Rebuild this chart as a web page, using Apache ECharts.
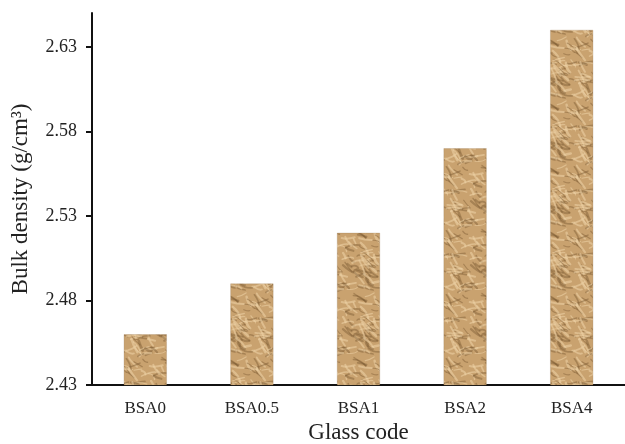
<!DOCTYPE html>
<html>
<head>
<meta charset="utf-8">
<script src="https://cdn.jsdelivr.net/npm/echarts@6/dist/echarts.min.js"></script>
<style>
html,body{margin:0;padding:0;background:#fff;}
#chart{width:625px;height:444px;}
</style>
</head>
<body>
<div id="chart"></div>
<script>
var categories = ['BSA0', 'BSA0.5', 'BSA1', 'BSA2', 'BSA4'];
var bulkDensity = [2.46, 2.49, 2.52, 2.57, 2.64];
var yTicks = [2.43, 2.48, 2.53, 2.58, 2.63];

// crumpled-paper style texture (styling only)
function makeTexture() {
  var N = 64;
  var c = document.createElement('canvas');
  c.width = N; c.height = N;
  var g = c.getContext('2d');
  g.fillStyle = '#c9a26f';
  g.fillRect(0, 0, N, N);
  var s = 24681;
  function rnd() { s = (s * 16807) % 2147483647; return s / 2147483647; }
  try { g.filter = 'blur(0.7px)'; } catch (e) {}
  for (var i = 0; i < 110; i++) {
    var x = rnd() * N, y = rnd() * N;
    var a = (rnd() - 0.5) * 1.6 + 0.4;
    var len = 5 + rnd() * 10;
    var dark = rnd() < 0.5;
    var col = dark ? 'rgba(125,90,50,0.45)' : 'rgba(238,212,168,0.55)';
    var lw = 1 + rnd() * 1.6;
    var bx = (rnd() - 0.5) * 6, by = (rnd() - 0.5) * 6;
    [[0,0],[-N,0],[N,0],[0,-N],[0,N]].forEach(function(o){
      g.strokeStyle = col;
      g.lineWidth = lw;
      g.lineCap = 'round';
      g.beginPath();
      var x0 = x + o[0], y0 = y + o[1];
      var x1 = x0 + Math.cos(a) * len, y1 = y0 + Math.sin(a) * len;
      g.moveTo(x0, y0);
      g.quadraticCurveTo((x0 + x1) / 2 + bx, (y0 + y1) / 2 + by, x1, y1);
      g.stroke();
    });
  }
  return c;
}

var chart = echarts.init(document.getElementById('chart'));
var serif = '"Liberation Serif", "DejaVu Serif", serif';
chart.setOption({
  animation: false,
  backgroundColor: '#ffffff',
  grid: { left: 92, right: 0, top: 13, bottom: 59, containLabel: false, outerBoundsMode: 'none' },
  xAxis: {
    type: 'category',
    data: categories,
    name: 'Glass code',
    nameLocation: 'middle',
    nameGap: 36,
    nameTextStyle: { fontFamily: serif, fontSize: 23, color: '#222' },
    axisLine: { lineStyle: { color: '#111', width: 2 } },
    axisTick: { show: false },
    axisLabel: { fontFamily: serif, fontSize: 17, color: '#222', margin: 15 }
  },
  yAxis: {
    type: 'value',
    min: 2.43,
    max: 2.65,
    name: 'Bulk density (g/cm³)',
    nameLocation: 'middle',
    nameGap: 60,
    nameTextStyle: { fontFamily: serif, fontSize: 23, color: '#222' },
    axisLine: { show: true, lineStyle: { color: '#111', width: 2 } },
    axisTick: { show: true, length: 6, lineStyle: { color: '#111', width: 2 }, customValues: yTicks },
    axisLabel: { fontFamily: serif, fontSize: 18, color: '#222', margin: 15, customValues: yTicks,
      formatter: function (v) { return v.toFixed(2); } },
    splitLine: { show: false }
  },
  series: [{
    type: 'bar',
    data: bulkDensity,
    barWidth: 43,
    itemStyle: {
      color: { image: makeTexture(), repeat: 'repeat' },
      borderColor: 'rgba(150,120,80,0.5)',
      borderWidth: 0.5
    }
  }]
});
</script>
</body>
</html>
